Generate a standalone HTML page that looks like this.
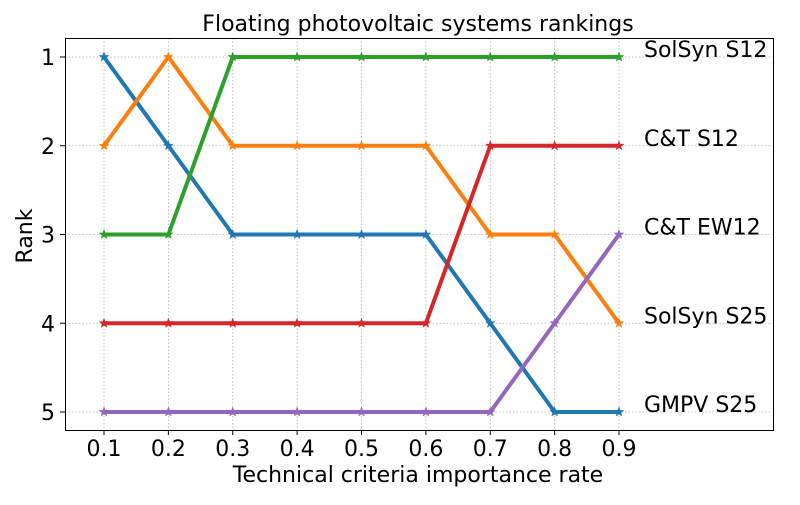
<!DOCTYPE html>
<html><head><meta charset="utf-8"><style>
body{margin:0;background:#fff;}
svg text{font-family:"DejaVu Sans","Liberation Sans",sans-serif;fill:#000;}
</style></head><body>
<svg id="chart" width="800" height="500">
<rect x="0" y="0" width="800" height="500" fill="#fff"/>
<text x="418" y="31" font-size="22" text-anchor="middle">Floating photovoltaic systems rankings</text>
<g id="grid"></g>
<g id="series"></g>
<g id="axes"></g>
<rect x="65.5" y="38.5" width="708" height="392" fill="none" stroke="#000" stroke-width="1"/>
<text x="418" y="482" font-size="22" text-anchor="middle">Technical criteria importance rate</text>
<text x="32" y="236" font-size="22" text-anchor="middle" transform="rotate(-90 32 236)">Rank</text>
</svg>
<script>
const xCategories = [0.1,0.2,0.3,0.4,0.5,0.6,0.7,0.8,0.9];
const yTicks = [1,2,3,4,5];
const seriesNames = ["SolSyn S12","C&T S12","C&T EW12","SolSyn S25","GMPV S25"];
const seriesColors = ["#1f77b4","#ff7f0e","#2ca02c","#d62728","#9467bd"];
const blueRanks = [1,2,3,3,3,3,4,5,5];
const orangeRanks = [2,1,2,2,2,2,3,3,4];
const greenRanks = [3,3,1,1,1,1,1,1,1];
const redRanks = [4,4,4,4,4,4,2,2,2];
const purpleRanks = [5,5,5,5,5,5,5,4,3];
const seriesValues = [blueRanks,orangeRanks,greenRanks,redRanks,purpleRanks];
const labelRanks = [1,2,3,4,5];
const labelTexts = ["SolSyn S12","C&T S12","C&T EW12","SolSyn S25","GMPV S25"];

const NS="http://www.w3.org/2000/svg";
function xScale(v){return 104+(v-0.1)/0.8*(619-104);}
function yScale(r){return 57+(r-1)/4*(412-57);}
function mk(tag,attrs,parent){const e=document.createElementNS(NS,tag);for(const k in attrs)e.setAttribute(k,attrs[k]);parent.appendChild(e);return e;}
const grid=document.getElementById('grid'),axes=document.getElementById('axes'),ser=document.getElementById('series');
xCategories.forEach(v=>{
  const x=xScale(v);
  const g=mk('line',{x1:x,x2:x,y1:38,y2:430,stroke:'#b0b0b0','stroke-dasharray':'1.5,2','stroke-width':0.8},grid);
  
  
  const t=mk('line',{x1:x,x2:x,y1:430,y2:435,stroke:'#000'},axes);
  
  
  const l=mk('text',{x:x,y:456,'font-size':22,'text-anchor':'middle'},axes);l.textContent=v.toFixed(1);
  
  
});
yTicks.forEach(r=>{
  const y=yScale(r);
  const g=mk('line',{x1:65,x2:773,y1:y,y2:y,stroke:'#b0b0b0','stroke-dasharray':'1.5,2','stroke-width':0.8},grid);
  
  
  const t=mk('line',{x1:60,x2:65,y1:y,y2:y,stroke:'#000'},axes);
  
  
  const l=mk('text',{x:55,y:y+8,'font-size':22,'text-anchor':'end'},axes);l.textContent=r;
  
  
});
function star(cx,cy,R){let p=[];for(let i=0;i<10;i++){const a=-Math.PI/2+i*Math.PI/5;const rr=i%2?R*0.4:R;p.push((cx+rr*Math.cos(a)).toFixed(1)+','+(cy+rr*Math.sin(a)).toFixed(1));}return p.join(' ');}
seriesValues.forEach((vals,si)=>{
  const c=seriesColors[si];
  const pts=vals.map((r,i)=>xScale(xCategories[i])+','+yScale(r)).join(' ');
  const pl=mk('polyline',{points:pts,fill:'none',stroke:c,'stroke-width':4,'stroke-linejoin':'round'},ser);
  
  
  vals.forEach((r,i)=>{
    const m=mk('polygon',{points:star(xScale(xCategories[i]),yScale(r),5),fill:c,stroke:c,'stroke-width':0.5},ser);
    
    
  });
});
labelTexts.forEach((s,i)=>{
  const t=mk('text',{x:644,y:yScale(labelRanks[i]),'font-size':22},axes);t.textContent=s;
  
  
});
</script>
</body></html>
